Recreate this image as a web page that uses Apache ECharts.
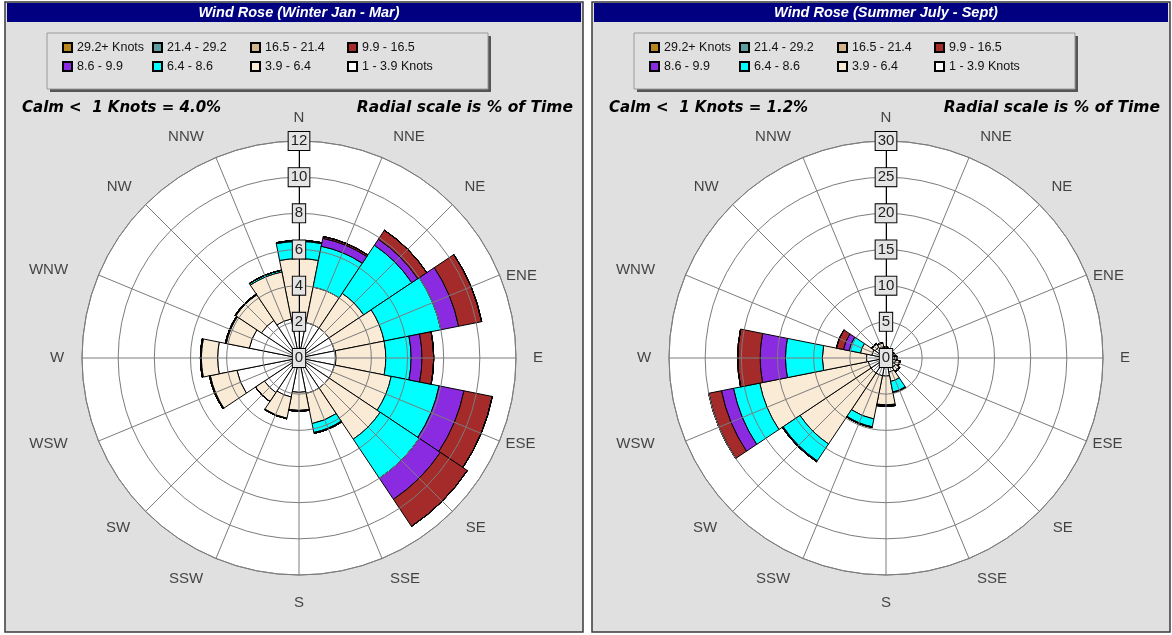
<!DOCTYPE html>
<html><head><meta charset="utf-8">
<script src="https://cdn.jsdelivr.net/npm/echarts@6/dist/echarts.min.js"></script>
<style>html,body{margin:0;padding:0;background:#fff}#c{width:1172px;height:635px}</style>
</head><body><div id="c"></div>
<script>
// ---- categories / labels ----
const directions = ['N','NNE','NE','ENE','E','ESE','SE','SSE','S','SSW','SW','WSW','W','WNW','NW','NNW'];
const speedBins = ['1 - 3.9 Knots','3.9 - 6.4','6.4 - 8.6','8.6 - 9.9','9.9 - 16.5','16.5 - 21.4','21.4 - 29.2','29.2+ Knots'];
const legendRow1 = ['29.2+ Knots','21.4 - 29.2','16.5 - 21.4','9.9 - 16.5'];
const legendRow2 = ['8.6 - 9.9','6.4 - 8.6','3.9 - 6.4','1 - 3.9 Knots'];
const titles = ['Wind Rose (Winter Jan - Mar)','Wind Rose (Summer July - Sept)'];
const calmTexts = ['Calm <  1 Knots = 4.0%','Calm <  1 Knots = 1.2%'];
const scaleNote = 'Radial scale is % of Time';
const radialMax = [12, 30];
const radialStep = [2, 5];

// ---- winter (% of time per direction, per speed bin) ----
const winter_1_39   = [2.1,2.0,2.0,2.0,2.05,2.0,2.0,2.0,1.9,2.2,2.3,3.5,4.5,2.8,2.5,2.2];
const winter_39_64  = [3.4,2.0,2.3,2.8,2.75,3.2,3.4,1.7,1.0,1.2,0.6,1.5,0.9,1.3,1.7,2.65];
const winter_64_86  = [0.95,2.3,3.2,3.2,1.4,2.7,2.6,0.5,0.05,0.03,0,0.05,0.05,0.05,0.05,0.1];
const winter_86_99  = [0.05,0.45,0.4,1.0,0.6,1.4,1.4,0.05,0,0,0,0,0,0,0,0];
const winter_99_165 = [0,0.1,0.6,1.3,0.65,1.6,1.8,0,0,0,0,0,0,0,0,0];
const winter_165_214 = [0,0,0,0,0,0,0,0,0,0,0,0,0,0,0,0];
const winter_214_292 = [0,0,0,0,0,0,0,0,0,0,0,0,0,0,0,0];
const winter_292p    = [0,0,0,0,0,0,0,0,0,0,0,0,0,0,0,0];

// ---- summer ----
const summer_1_39   = [1.2,1.0,1.0,1.1,1.2,1.4,1.6,2.0,2.5,2.5,2.5,2.5,2.7,2.0,1.8,1.6];
const summer_39_64  = [0.3,0.2,0.2,0.2,0.3,0.5,0.6,1.3,4.0,6.1,11.8,15.3,6.1,1.6,0.5,0.5];
const summer_64_86  = [0,0,0,0,0,0.1,0.1,1.5,0.05,1.1,2.8,3.7,5.1,1.6,0.1,0.1];
const summer_86_99  = [0,0,0,0,0,0,0,0.1,0.05,0.1,0.15,1.7,3.5,0.8,0,0];
const summer_99_165 = [0,0,0,0,0,0,0,0,0.1,0,0,1.8,3.1,1.0,0,0];
const summer_165_214 = [0,0,0,0,0,0,0,0,0,0,0,0,0,0,0,0];
const summer_214_292 = [0,0,0,0,0,0,0,0,0,0,0,0,0,0,0,0];
const summer_292p    = [0,0,0,0,0,0,0,0,0,0,0,0,0,0,0,0];

const seasonData = [
  [winter_1_39,winter_39_64,winter_64_86,winter_86_99,winter_99_165,winter_165_214,winter_214_292,winter_292p],
  [summer_1_39,summer_39_64,summer_64_86,summer_86_99,summer_99_165,summer_165_214,summer_214_292,summer_292p]
];

// ---- styling ----
const binColors = ['#ffffff','#faebd7','#00ffff','#8a2be2','#a52a2a','#d2b48c','#5f9ea0','#b8861e'];
const FONT = 'Arial, "Liberation Sans", sans-serif';
const panelX = [0, 587];
const centers = [[299,358],[886,358]];
const R = 217;
const labelRadiusPx = 243;
// fine label nudges (px) for the compass labels, same order as directions
const dirLabelNudge = [[0,3],[17,3.5],[4,1],[-2,11],[-4,0],[-3,-7],[5,-2],[13,-3.5],
                       [0,2],[-20,-3.5],[-9,-2],[-26,-7],[1,0],[-26,5],[-8,1],[-20,3.5]];
const legendColX = [62, 152, 250, 347];
const legendRowY = [41, 60];
const gridColor = '#7c7c7c';

const chart = echarts.init(document.getElementById('c'), null, {renderer:'canvas'});

const polar = [], angleAxis = [], radiusAxis = [], series = [], legend = [], graphic = [];

for (let s = 0; s < 2; s++) {
  const c = centers[s], ox = panelX[s];
  polar.push({center: c, radius: R});
  polar.push({center: c, radius: R});
  // bar polar (category)
  angleAxis.push({
    polarIndex: s*2, type: 'category', data: directions, startAngle: 90 + 11.25, clockwise: true,
    boundaryGap: true, axisLine: {show:false}, axisTick: {show:false}, splitLine: {show:false},
    axisLabel: {show:false}, z: 1
  });
  radiusAxis.push({
    polarIndex: s*2, type: 'value', min: 0, max: radialMax[s],
    axisLine:{show:false}, axisTick:{show:false}, axisLabel:{show:false}, splitLine:{show:false}, z: 1
  });
  // grid polar (drawn on top of bars)
  angleAxis.push({
    polarIndex: s*2+1, type: 'value', min: 0, max: 360, interval: 22.5, startAngle: 90, clockwise: true,
    axisLine: {show:true, lineStyle:{color: gridColor, width: 1}}, axisTick:{show:false}, axisLabel:{show:false},
    splitLine: {show:true, lineStyle:{color: gridColor, width: 1}}, z: 5
  });
  radiusAxis.push({
    polarIndex: s*2+1, type: 'value', min: 0, max: radialMax[s], interval: radialStep[s],
    axisLine: {show:true, lineStyle:{color:'#000', width:1}}, axisTick:{show:false},
    splitLine: {show:true, lineStyle:{color: gridColor, width: 1}},
    axisLabel: {show:true, margin: 0, align:'center', verticalAlign:'middle', showMinLabel:true, showMaxLabel:true,
      fontSize: 15, fontFamily: FONT, color:'#222', backgroundColor:'#e4e4e4', borderColor:'#000', borderWidth:1,
      padding:[2,2,1,2]}, z: 6
  });
  for (let b = 0; b < speedBins.length; b++) {
    series.push({
      type: 'bar', coordinateSystem: 'polar', polarIndex: s*2, name: speedBins[b], stack: 'season'+s,
      data: seasonData[s][b], barCategoryGap: '0%',
      itemStyle: {color: binColors[b], borderColor: '#000', borderWidth: 1},
      emphasis: {disabled: true}, silent: true, animation: false
    });
  }
  // compass labels placed through the category angle axis of the bar polar
  const rLab = labelRadiusPx / R * radialMax[s];
  series.push({
    type: 'scatter', coordinateSystem: 'polar', polarIndex: s*2, name: 'dirs', symbolSize: 0, clip: false,
    silent: true, animation: false, z: 10,
    data: directions.map((d, i) => ({value: [rLab, d], label: {offset: dirLabelNudge[i]}})),
    label: {show: true, position: 'inside', formatter: p => p.value[1], fontSize: 15, fontFamily: FONT, color: '#1a1a1a'}
  });
  // legend: one small legend per cell so the columns line up
  [legendRow1, legendRow2].forEach((row, r) => {
    row.forEach((name, k) => {
      legend.push({
        orient:'horizontal', left: ox + legendColX[k], top: legendRowY[r], itemWidth: 9, itemHeight: 9,
        padding: 0, selectedMode: false, icon: 'rect', data: [name],
        textStyle: {fontSize: 12.5, fontFamily: FONT, color:'#111'}
      });
    });
  });

  // panel background & frame
  graphic.push({type:'rect', z:-10, shape:{x: ox+5, y: 2, width: 578, height: 630},
    style:{fill:'#e0e0e0', stroke:'#3a3a3a', lineWidth: 1.5}});
  graphic.push({type:'circle', z:-5, shape:{cx: c[0], cy: c[1], r: R}, style:{fill:'#ffffff'}});
  // title bar
  graphic.push({type:'rect', z:-4, shape:{x: ox+7, y: 3, width: 574, height: 19}, style:{fill:'#000080'}});
  graphic.push({type:'text', z:10, style:{text: titles[s], x: ox+299, y: 13, fill:'#ffffff',
    font: 'italic bold 14.5px ' + FONT, textAlign:'center', textVerticalAlign:'middle', align:'center', verticalAlign:'middle'}});
  // legend box with shadow
  graphic.push({type:'rect', z:-4, shape:{x: ox+50, y: 36, width: 441, height: 56}, style:{fill:'#555555'}});
  graphic.push({type:'rect', z:-3, shape:{x: ox+47, y: 33, width: 441, height: 56},
    style:{fill:'#e0e0e0', stroke:'#9a9a9a', lineWidth: 1}});
  // notes
  graphic.push({type:'text', z:10, style:{text: calmTexts[s], x: ox+22, y: 108, fill:'#000',
    font: 'italic bold 15px "DejaVu Sans", sans-serif', textAlign:'left', textVerticalAlign:'middle', align:'left', verticalAlign:'middle'}});
  graphic.push({type:'text', z:10, style:{text: scaleNote, x: ox+573, y: 108, fill:'#000',
    font: 'italic bold 15.5px "DejaVu Sans", sans-serif', textAlign:'right', textVerticalAlign:'middle', align:'right', verticalAlign:'middle'}});
}

chart.setOption({
  animation: false,
  backgroundColor: '#ffffff',
  polar, angleAxis, radiusAxis, series, legend, graphic
});
</script></body></html>
